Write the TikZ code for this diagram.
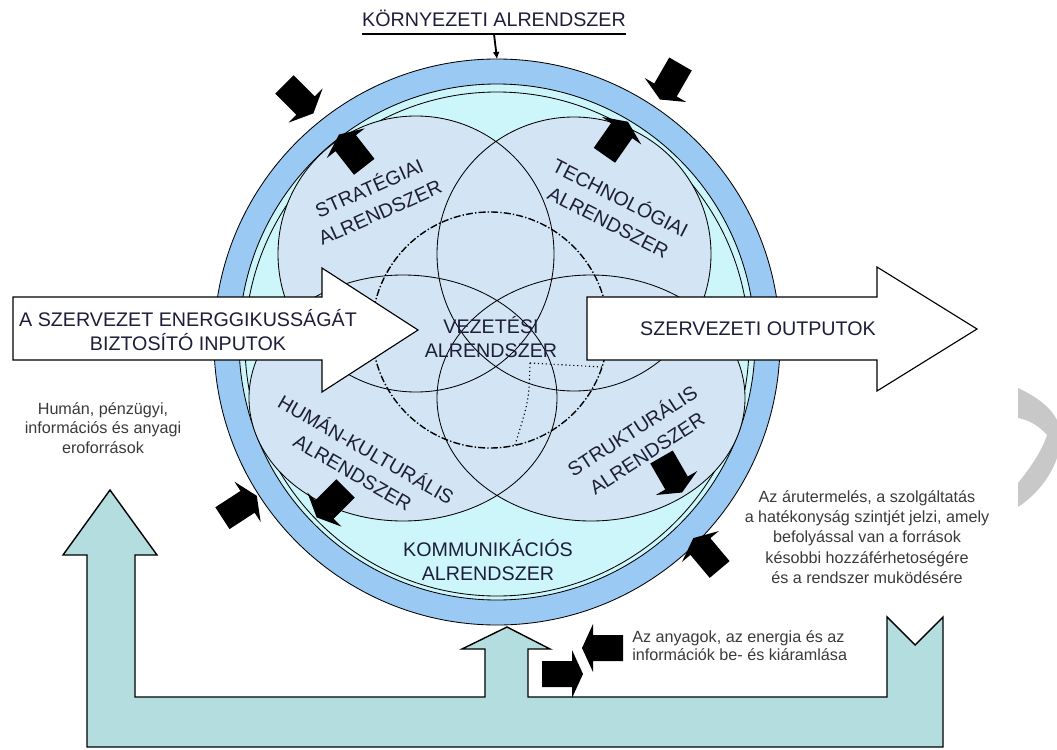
\documentclass[tikz,border=0pt]{standalone}
\usepackage{fontspec}
\setmainfont{Liberation Sans}
\usetikzlibrary{arrows.meta}
\definecolor{ringblue}{HTML}{9ACAF4}
\definecolor{innercyan}{HTML}{CDF6FB}
\definecolor{sysfill}{HTML}{D3E5F4}
\definecolor{flowteal}{HTML}{B4DDE0}
\definecolor{sidegray}{HTML}{C8C8C8}
\definecolor{labeltext}{HTML}{1E1E3A}
\definecolor{notetext}{HTML}{3A3A3A}
\tikzset{
  sysname/.style={font=\fontsize{14}{17.5}\selectfont, align=center, text=labeltext, inner sep=0pt},
  turnname/.style={sysname, font=\fontsize{14}{19}\selectfont},
  notetxt/.style={font=\fontsize{11.5}{14}\selectfont, align=center, text=notetext, inner sep=0pt},
  bigarrow/.style={draw=black, fill=white, line width=0.8pt},
  sysline/.style={draw=black, line width=0.6pt},
  mgmtline/.style={line width=1pt, dash pattern=on 5pt off 1.5pt on 1pt off 1.5pt}
}
\begin{document}
\begin{tikzpicture}[x=0.025cm,y=0.025cm]
\newcommand{\ringout}{283}
\newcommand{\ringin}{258}
\newcommand{\commr}{252}
\newcommand{\mgmtr}{118}
\newcommand{\blk}[3]{\fill [black,shift={(#1,#2)},rotate=#3] (-15,-13) -- (15,-13) -- (15,-24) -- (26,0) -- (15,24) -- (15,13) -- (-15,13) -- cycle;}
\useasboundingbox (0,0) rectangle (1057,-749);
\coordinate (ctr) at (497,-342);
\coordinate (ctop) at (497,-59);
\coordinate (commc) at (497,-344);
\coordinate (mgmtc) at (490,-330);

\fill [sidegray] (1018,-388) .. controls (1040,-398) and (1052,-410) .. (1057,-420) -- (1057,-458) .. controls (1050,-478) and (1036,-495) .. (1018,-507) -- (1018,-483) .. controls (1032,-466) and (1043,-448) .. (1047,-435) .. controls (1040,-427) and (1030,-420) .. (1018,-418) -- cycle;
\draw [fill=flowteal, line width=1pt] (87,-747) -- (87,-555) -- (63,-555) -- (110,-490) -- (157,-555) -- (135,-555) -- (135,-697) -- (485,-697) -- (485,-649) -- (462,-649) -- (507,-627) -- (550,-649) -- (528,-649) -- (528,-697) -- (887,-697) -- (887,-617) -- (915,-645) -- (943,-617) -- (943,-747) -- cycle;

\draw [fill=ringblue, sysline] (ctr) circle [radius=\ringout];
\draw [fill=innercyan, sysline] (ctr) circle [radius=\ringin];
\draw [sysline] (commc) circle [radius=\commr];
\fill [sysfill] (416,-254) circle [radius=138] (574,-254) circle [radius=137] (403,-398) ellipse [x radius=154, y radius=123] (591,-398) ellipse [x radius=154, y radius=123];
\draw [sysline] (416,-254) circle [radius=138] (574,-254) circle [radius=137] (403,-398) ellipse [x radius=154, y radius=123] (591,-398) ellipse [x radius=154, y radius=123];
\draw [mgmtline] (mgmtc) circle [radius=\mgmtr];
\draw [dotted, line width=0.8pt] (530,-363) -- (602,-367);
\draw [dotted, line width=0.8pt] (530,-363) .. controls (529,-400) .. (515,-445);

\draw [bigarrow] (13,-297) -- (322,-297) -- (322,-268) -- (418,-330) -- (322,-392) -- (322,-360) -- (13,-360) -- cycle;
\draw [bigarrow] (587,-297) -- (877,-297) -- (877,-267) -- (977,-329) -- (877,-391) -- (877,-360) -- (587,-360) -- cycle;

\node [sysname] (inputs) at (188,-330) {A SZERVEZET ENERGGIKUSSÁGÁT\\BIZTOSÍTÓ INPUTOK};
\node [sysname] (outputs) at (758,-329) {SZERVEZETI OUTPUTOK};
\node [sysname] (mgmt) at (491,-337) {VEZETÉSI\\ALRENDSZER};
\node [turnname, rotate=24] (strat) at (374,-199) {STRATÉGIAI\\ALRENDSZER};
\node [turnname, rotate=-27] (tech) at (615,-209) {TECHNOLÓGIAI\\ALRENDSZER};
\node [turnname, rotate=-30] (human) at (360,-460) {HUMÁN-KULTURÁLIS\\ALRENDSZER};
\node [turnname, rotate=33] (struct) at (639,-441) {STRUKTURÁLIS\\ALRENDSZER};
\node [sysname] (comm) at (488,-560) {KOMMUNIKÁCIÓS\\ALRENDSZER};

\node [notetxt] (resources) at (103,-428) {Humán, pénzügyi,\\információs és anyagi\\eroforrások};
\node [notetxt, font=\fontsize{11.5}{14.4}\selectfont] (efficiency) at (867,-537) {Az árutermelés, a szolgáltatás\\a hatékonyság szintjét jelzi, amely\\befolyással van a források\\késobbi hozzáférhetoségére\\és a rendszer muködésére};
\node [notetxt, align=left, anchor=west, font=\fontsize{11.5}{12.8}\selectfont] (exchange) at (632,-646) {Az anyagok, az energia és az\\információk be- és kiáramlása};

\blk{295}{-95}{-45}
\blk{673}{-77}{-120}
\blk{355}{-155}{128}
\blk{613}{-143}{55}
\blk{335}{-499}{-135}
\blk{235}{-510}{33}
\blk{669}{-470}{-60}
\blk{710}{-558}{130}
\blk{608}{-648}{180}
\blk{557}{-674}{0}

\node [sysname, anchor=base] (envtitle) at (494,-27) {KÖRNYEZETI ALRENDSZER};
\draw [line width=0.9pt] ([yshift=-5pt]envtitle.base west) -- ([yshift=-5pt]envtitle.base east);
\draw [line width=1.3pt, -{Latex[length=5pt,width=5pt]}] ([yshift=-5pt]envtitle.base) -- (ctop);
\end{tikzpicture}
\end{document}
